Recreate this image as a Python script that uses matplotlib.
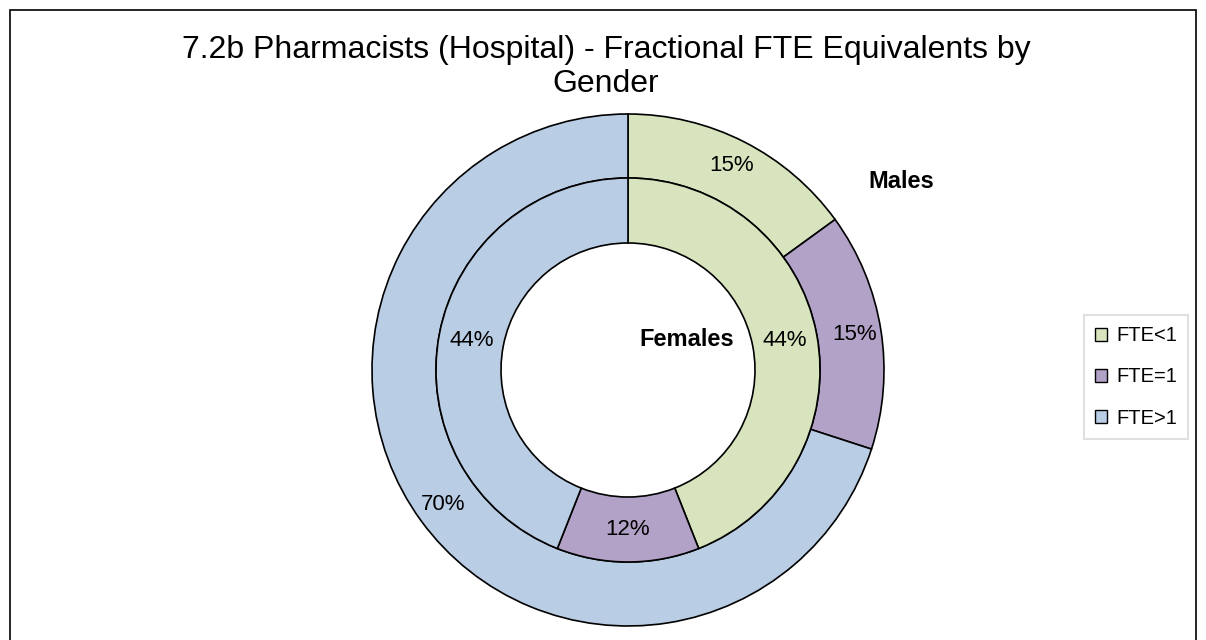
import numpy as np
import matplotlib

matplotlib.use("Agg")
import matplotlib.pyplot as plt
from matplotlib.patches import Patch, Rectangle

plt.rcParams["font.family"] = ["Liberation Sans", "DejaVu Sans"]

categories = ["FTE<1", "FTE=1", "FTE>1"]
males = [15, 15, 70]
females = [44, 12, 44]
colors = ["#D7E4BD", "#B3A2C7", "#B9CDE5"]
title = "7.2b Pharmacists (Hospital) - Fractional FTE Equivalents by\nGender"

W, H = 1206, 640
fig = plt.figure(figsize=(W / 100, H / 100), dpi=100)
ax = fig.add_axes([0, 0, 1, 1])

cx, cy = 628, H - 370
r_out, r_mid, r_in = 256, 192, 127
wp = dict(edgecolor="black", linewidth=1.2)
tp = dict(fontsize=16, color="black")

ax.pie(males, colors=colors, radius=r_out, center=(cx, cy), startangle=90,
       counterclock=False, wedgeprops=dict(width=r_out - r_mid, **wp),
       autopct="%d%%", pctdistance=0.895, textprops=tp, frame=True)
ax.pie(females, colors=colors, radius=r_mid, center=(cx, cy), startangle=90,
       counterclock=False, wedgeprops=dict(width=r_mid - r_in, **wp),
       autopct="%d%%", pctdistance=0.83, textprops=tp, frame=True)

ax.set_xlim(0, W)
ax.set_ylim(0, H)
ax.set_aspect("equal")
ax.axis("off")

ax.text(901, H - 181, "Males", fontsize=17, fontweight="bold", ha="center", va="center")
ax.text(687, H - 340, "Females", fontsize=17, fontweight="bold", ha="center", va="center")

ax.text(606, H - 67, title, fontsize=23, ha="center", va="center", linespacing=1.2)

# chart border
ax.add_patch(Rectangle((10, -5), W - 20, H - 5, fill=False, edgecolor="black", linewidth=1.2))

handles = [Patch(facecolor=c, edgecolor="black", label=l) for c, l in zip(colors, categories)]
leg = ax.legend(handles=handles, loc="center left", bbox_to_anchor=(1084 / W, (H - 377) / H),
                fontsize=14.5, frameon=True, fancybox=False, edgecolor="#D9D9D9",
                handlelength=0.6, handleheight=0.6, handletextpad=0.45, labelspacing=1.1,
                borderpad=0.55, borderaxespad=0)
leg.get_frame().set_linewidth(1.5)

fig.savefig("out.png", dpi=100, facecolor="white")
